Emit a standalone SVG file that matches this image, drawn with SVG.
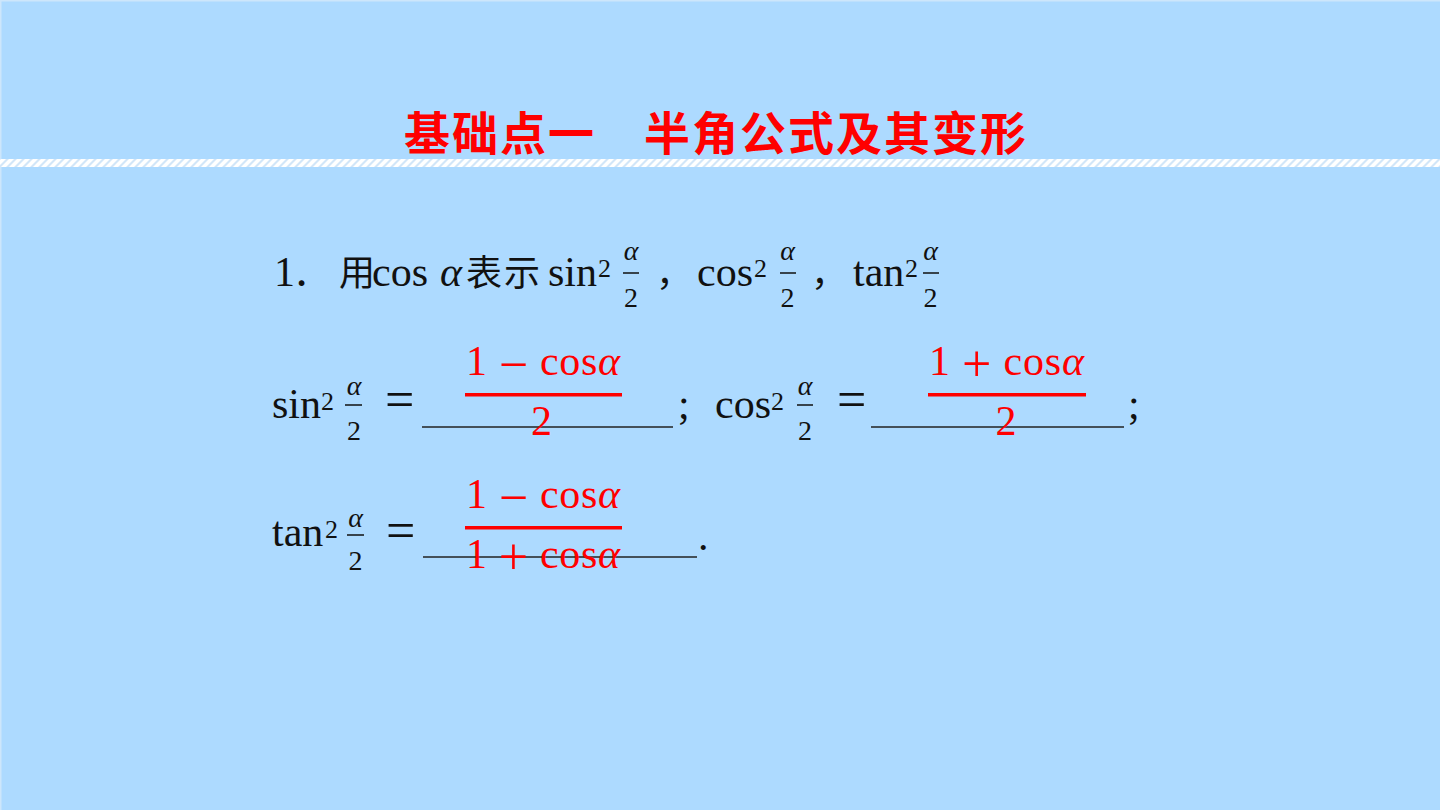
<svg xmlns="http://www.w3.org/2000/svg" width="1440" height="810" viewBox="0 0 1440 810">
  <defs>
    <pattern id="stripes" patternUnits="userSpaceOnUse" width="8" height="8" patternTransform="skewX(-45)">
      <rect x="0" y="0" width="8" height="8" fill="#d2e6f8"/>
      <rect x="0" y="0" width="5" height="8" fill="#ffffff"/>
    </pattern>
    <style>
      .t { font-family: "Liberation Serif", "Noto Sans CJK SC", serif; font-size: 42px; fill: #111; }
      .cjk { font-family: "Noto Sans CJK SC", sans-serif; font-size: 36px; fill: #111; }
      .it { font-style: italic; }
      .fr { font-family: "Liberation Serif", serif; font-size: 28px; fill: #111; text-anchor: middle; }
      .sup { font-family: "Liberation Serif", serif; font-size: 26px; fill: #111; }
      .eq { font-family: "Liberation Serif", serif; font-size: 52px; fill: #111; }
      .red { font-family: "Liberation Serif", serif; font-size: 42px; fill: #ff0000; }
      .op { font-size: 52px; }
      .mid { text-anchor: middle; }
      .bar { stroke: #111; stroke-width: 1.5; }
      .ul { stroke: #222; stroke-width: 1.5; }
      .title { font-family: "Noto Sans CJK SC", sans-serif; font-weight: bold; font-size: 46px; fill: #ff0000; letter-spacing: 2px; }
    </style>
  </defs>

  <g id="background">
    <rect x="0" y="0" width="1440" height="810" fill="#addaff"/>
    <rect x="0" y="0" width="1440" height="1.5" fill="#cde6fb"/>
    <rect x="0" y="0" width="1.5" height="810" fill="#cde6fb"/>
    <rect x="0" y="159" width="1440" height="8" fill="url(#stripes)"/>
  </g>

  <g id="title">
    <text class="title" x="404" y="150">基础点一　半角公式及其变形</text>
  </g>

  <g id="line1">
    <text class="t" x="274" y="286">1</text>
    <text class="cjk" x="293" y="286">．</text>
    <text class="cjk" x="339" y="286">用</text>
    <text class="t" x="372" y="286">cos</text>
    <text class="t it" x="440" y="286">α</text>
    <text class="cjk" x="466" y="286" style="letter-spacing:2px">表示</text>
    <text class="t" x="548" y="286">sin</text>
    <text class="sup" x="598" y="277">2</text>
    <text class="fr it" x="631" y="260">α</text>
    <line class="bar" x1="623" y1="273" x2="639" y2="273"/>
    <text class="fr" x="631" y="307">2</text>
    <text class="cjk" x="656" y="286">，</text>
    <text class="t" x="697" y="286">cos</text>
    <text class="sup" x="754" y="277">2</text>
    <text class="fr it" x="787.5" y="260">α</text>
    <line class="bar" x1="780" y1="273" x2="796" y2="273"/>
    <text class="fr" x="787.5" y="307">2</text>
    <text class="cjk" x="811" y="286">，</text>
    <text class="t" x="853" y="286">tan</text>
    <text class="sup" x="905" y="277">2</text>
    <text class="fr it" x="930.5" y="260">α</text>
    <line class="bar" x1="923" y1="273" x2="939" y2="273"/>
    <text class="fr" x="930.5" y="307">2</text>
  </g>

  <g id="line2">
    <text class="t" x="272" y="418">sin</text>
    <text class="sup" x="321" y="410">2</text>
    <text class="fr it" x="354" y="395">α</text>
    <line class="bar" x1="345" y1="405" x2="362" y2="405"/>
    <text class="fr" x="354" y="440">2</text>
    <text class="eq" x="385" y="417">=</text>
    <line class="ul" x1="422" y1="427" x2="673" y2="427"/>
    <text class="red" x="466" y="375" textLength="154" lengthAdjust="spacing">1 <tspan class="op" dy="7">−</tspan><tspan dy="-7"> cos</tspan><tspan class="it">α</tspan></text>
    <rect x="465" y="393" width="157" height="3.5" fill="#ff0000"/>
    <text class="red mid" x="541.5" y="435">2</text>
    <text class="t" x="678" y="418">;</text>
    <text class="t" x="715" y="418">cos</text>
    <text class="sup" x="771" y="410">2</text>
    <text class="fr it" x="805" y="395">α</text>
    <line class="bar" x1="797" y1="405" x2="813" y2="405"/>
    <text class="fr" x="805" y="440">2</text>
    <text class="eq" x="837" y="417">=</text>
    <line class="ul" x1="871" y1="427" x2="1124" y2="427"/>
    <text class="red" x="929" y="375" textLength="155" lengthAdjust="spacing">1 <tspan class="op" dy="6">+</tspan><tspan dy="-6"> cos</tspan><tspan class="it">α</tspan></text>
    <rect x="928" y="393" width="158" height="3.5" fill="#ff0000"/>
    <text class="red mid" x="1006" y="435">2</text>
    <text class="t" x="1128" y="418">;</text>
  </g>

  <g id="line3">
    <text class="t" x="272" y="546">tan</text>
    <text class="sup" x="325" y="538">2</text>
    <text class="fr it" x="355.5" y="527">α</text>
    <line class="bar" x1="347" y1="535" x2="364" y2="535"/>
    <text class="fr" x="355.5" y="570">2</text>
    <text class="eq" x="386" y="548">=</text>
    <line class="ul" x1="423" y1="557" x2="697" y2="557"/>
    <text class="red" x="466" y="508" textLength="154" lengthAdjust="spacing">1 <tspan class="op" dy="7">−</tspan><tspan dy="-7"> cos</tspan><tspan class="it">α</tspan></text>
    <rect x="465" y="526" width="157" height="3.5" fill="#ff0000"/>
    <text class="red" x="466" y="568" textLength="154" lengthAdjust="spacing">1 <tspan class="op" dy="6">+</tspan><tspan dy="-6"> cos</tspan><tspan class="it">α</tspan></text>
    <text class="t" x="698" y="550">.</text>
  </g>
</svg>
